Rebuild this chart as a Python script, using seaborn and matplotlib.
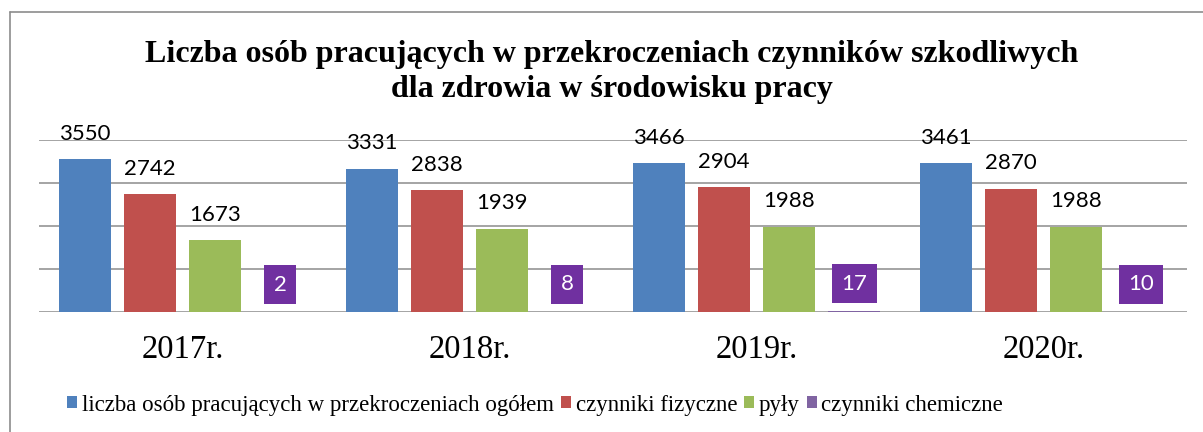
import pandas as pd
import numpy as np
import matplotlib
matplotlib.use("Agg")
import matplotlib.pyplot as plt
import seaborn as sns
from matplotlib.lines import Line2D

# -----------------------------
# DATA
# -----------------------------
years = ["2017r.", "2018r.", "2019r.", "2020r."]
series = [
    "liczba osób pracujących w przekroczeniach ogółem",
    "czynniki fizyczne",
    "pyły",
    "czynniki chemiczne",
]
ogolem = [3550, 3331, 3466, 3461]
fizyczne = [2742, 2838, 2904, 2870]
pyly = [1673, 1939, 1988, 1988]
chemiczne = [2, 8, 17, 10]

colors = ["#4F81BD", "#C0504D", "#9BBB59", "#8064A2"]

df = pd.DataFrame({
    "rok": years * 4,
    "seria": [s for s in series for _ in years],
    "liczba": ogolem + fizyczne + pyly + chemiczne,
})

# -----------------------------
# FIGURE
# -----------------------------
sns.set_style("white")
plt.rcParams["text.color"] = "black"
plt.rcParams["xtick.color"] = "black"

W, H = 1203, 432
fig = plt.figure(figsize=(W / 100, H / 100), dpi=100)
ax = fig.add_axes([39 / W, (H - 312) / H, (1187 - 39) / W, 172 / H])

sns.barplot(data=df, x="rok", y="liczba", hue="seria", palette=colors,
            width=0.906, gap=0.2, saturation=1, linewidth=0, edgecolor="none",
            ax=ax, legend=True)

ax.set_ylim(0, 4000)
ax.set_yticks([0, 1000, 2000, 3000, 4000])
ax.set_yticklabels([])
ax.grid(axis="y", color="#8C8C8C", linewidth=1.1)
ax.set_axisbelow(True)
for s in ax.spines.values():
    s.set_visible(False)
ax.tick_params(axis="both", length=0)
ax.tick_params(axis="x", pad=16.5, labelcolor="black")
ax.set_xlabel("")
ax.set_ylabel("")
for lab in ax.get_xticklabels():
    lab.set_family("Liberation Serif")
    lab.set_fontsize(23.5)

# data labels
for cont in ax.containers[:3]:
    ax.bar_label(cont, padding=11, fontsize=16, family="Lato", color="black")
ax.bar_label(ax.containers[3], padding=12.5, fontsize=16, family="Lato", color="white",
             bbox=dict(boxstyle="square,pad=0.43", fc="#7030A0", ec="none"))

# legend
handles, labels = ax.get_legend_handles_labels()
ax.get_legend().remove()
fig.legend(handles, labels, loc="center", bbox_to_anchor=(535 / W, 1 - 405 / H),
           ncol=4, frameon=False, prop={"family": "Liberation Serif", "size": 16.5},
           handlelength=0.45, handleheight=0.45, handletextpad=0.2,
           columnspacing=0.3, borderpad=0, labelcolor="black")

# title
fig.text(612 / W, 1 - 62 / H,
         "Liczba osób pracujących w przekroczeniach czynników szkodliwych",
         ha="center", va="baseline", family="Liberation Serif",
         fontweight="bold", fontsize=23, color="black")
fig.text(612 / W, 1 - 97 / H, "dla zdrowia w środowisku pracy",
         ha="center", va="baseline", family="Liberation Serif",
         fontweight="bold", fontsize=23, color="black")

# chart frame
fig.add_artist(Line2D([10 / W, 10 / W], [0, 1 - 12 / H], color="#8C8C8C", lw=1.2))
fig.add_artist(Line2D([10 / W, 1], [1 - 12 / H, 1 - 12 / H], color="#8C8C8C", lw=1.2))

fig.savefig("out.png", dpi=100)
